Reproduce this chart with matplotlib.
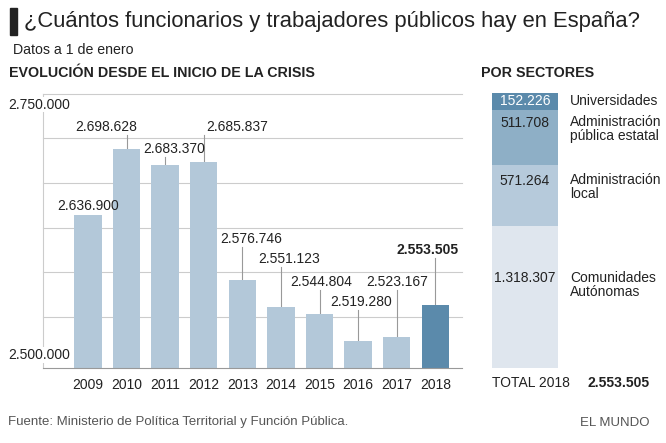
import numpy as np
import matplotlib
matplotlib.use("Agg")
import matplotlib.pyplot as plt
from matplotlib.transforms import blended_transform_factory

plt.rcParams["font.family"] = ["Liberation Sans", "DejaVu Sans"]

# --- data -------------------------------------------------------------
years = ["2009", "2010", "2011", "2012", "2013", "2014", "2015", "2016", "2017", "2018"]
employees = [2636900, 2698628, 2683370, 2685837, 2576746, 2551123, 2544804, 2519280, 2523167, 2553505]
value_labels = ["2.636.900", "2.698.628", "2.683.370", "2.685.837", "2.576.746",
                "2.551.123", "2.544.804", "2.519.280", "2.523.167", "2.553.505"]

sectors = ["Universidades", "Administración\npública estatal", "Administración\nlocal",
           "Comunidades\nAutónomas"]
sector_values = [152226, 511708, 571264, 1318307]
sector_labels = ["152.226", "511.708", "571.264", "1.318.307"]
total_label = "2.553.505"

# --- layout (label placement, in bar units / data units) ---------------
lab_dx = [0.0, -0.53, 0.23, 0.86, 0.22, 0.21, 0.04, 0.07, 0.0, -0.19]
lab_y = [None, 2719100, 2698000, 2719100, 2614200, 2595600, 2574800, 2556100, 2574800, 2604300]
sector_text_off = [None, 13, 16, 52]  # px below segment top

W, H = 666, 443
DARK = "#222222"
LIGHT_BAR = "#b3c8d9"
HIGHLIGHT = "#5b8aab"
SECTOR_COLORS = ["#5b8aab", "#8eafc6", "#b6cadb", "#dfe6ee"]


def px_axes(x0, y0, x1, y1):
    """Axes rectangle from pixel coords (top-left origin)."""
    return fig.add_axes([x0 / W, 1 - y1 / H, (x1 - x0) / W, (y1 - y0) / H])


fig = plt.figure(figsize=(W / 100, H / 100), dpi=100)

# --- header -------------------------------------------------------------
fig.patches.append(plt.Rectangle((10 / W, 1 - 35 / H), 7 / W, 27 / H,
                                 transform=fig.transFigure, color="#222222"))
fig.text(24 / W, 1 - 21 / H, "¿Cuántos funcionarios y trabajadores públicos hay en España?",
         fontsize=15.8, color=DARK, va="center", ha="left")
fig.text(13 / W, 1 - 50 / H, "Datos a 1 de enero", fontsize=10.2, color=DARK, va="center")
fig.text(9 / W, 1 - 73 / H, "EVOLUCIÓN DESDE EL INICIO DE LA CRISIS", fontsize=10.3,
         fontweight="bold", color=DARK, va="center")
fig.text(481 / W, 1 - 73 / H, "POR SECTORES", fontsize=10.3, fontweight="bold",
         color=DARK, va="center")

# --- left: evolution bars -------------------------------------------------
ax = px_axes(43, 93.5, 462, 368)
x = np.arange(len(years))
ymin, ymax = 2494400, 2750000
ax.set_xlim(-1.166, 9.69)
ax.set_ylim(ymin, ymax)

for gy in np.linspace(2500000, 2750000, 7)[1:]:
    ax.axhline(gy, color="#cccccc", lw=0.8, zorder=0, clip_on=False)

colors = [LIGHT_BAR] * (len(years) - 1) + [HIGHLIGHT]
ax.bar(x, employees, width=0.71, color=colors, zorder=2)

for i, (v, lab) in enumerate(zip(employees, value_labels)):
    weight = "bold" if i == len(years) - 1 else "normal"
    if lab_y[i] is None:
        ax.text(x[i] + lab_dx[i], v + 1500, lab, ha="center", va="bottom",
                fontsize=10, color=DARK, fontweight=weight)
        continue
    ax.text(x[i] + lab_dx[i], lab_y[i], lab, ha="center", va="center",
            fontsize=10, color=DARK, fontweight=weight, zorder=3)
    ax.plot([x[i], x[i]], [v, lab_y[i] - 7500], color="#999999", lw=0.8, zorder=1)

for side in ["top", "right"]:
    ax.spines[side].set_visible(False)
ax.spines["left"].set_color("#cccccc")
ax.spines["bottom"].set_color("#999999")
ax.set_yticks([])
ax.set_xticks(x)
ax.set_xticklabels(years, fontsize=10, color=DARK)
ax.tick_params(axis="x", length=0, pad=7)

tr = blended_transform_factory(fig.transFigure, ax.transData)
ax.annotate("2.750.000", xy=(8 / W, ymax), xycoords=tr, xytext=(0, -3),
            textcoords="offset points", va="top", ha="left", fontsize=10, color=DARK,
            bbox=dict(fc="white", ec="none", pad=0.5), annotation_clip=False, zorder=5)
ax.annotate("2.500.000", xy=(8 / W, 2500000), xycoords=tr, xytext=(0, 0),
            textcoords="offset points", va="bottom", ha="left", fontsize=10, color=DARK,
            bbox=dict(fc="white", ec="none", pad=0.5), annotation_clip=False, zorder=5)

# --- right: sectors stacked bar ---------------------------------------------
ax2 = px_axes(491.7, 93.3, 558.3, 368.3)
total = sum(sector_values)
ax2.set_xlim(0, 1)
ax2.set_ylim(total, 0)
ax2.axis("off")

top = 0
for i, (name, v, lab) in enumerate(zip(sectors, sector_values, sector_labels)):
    ax2.bar(0.5, v, bottom=top, width=1.0, color=SECTOR_COLORS[i])
    if sector_text_off[i] is None:
        ax2.text(0.5, top + v / 2, lab, ha="center", va="center", fontsize=10, color="white")
        ax2.text(1.18, top + v / 2, name, ha="left", va="center", fontsize=10, color=DARK,
                 transform=ax2.transData, clip_on=False)
    else:
        yy = top + sector_text_off[i] / 275 * total
        ax2.text(0.5, yy, lab, ha="center", va="center", fontsize=10, color=DARK)
        ax2.annotate(name, xy=(1.18, yy), xycoords="data", xytext=(0, 5.5),
                     textcoords="offset points", ha="left", va="top", fontsize=10,
                     color=DARK, linespacing=1.0, annotation_clip=False)
    top += v

fig.text(491.7 / W, 1 - 383 / H, "TOTAL 2018", fontsize=10, color=DARK, va="center")
fig.text(588 / W, 1 - 383 / H, total_label, fontsize=10, fontweight="bold", color=DARK,
         va="center")

# --- footer -------------------------------------------------------------
fig.text(8 / W, 1 - 422 / H, "Fuente: Ministerio de Política Territorial y Función Pública.",
         fontsize=9.5, color="#555555", va="center")
fig.text(649 / W, 1 - 423 / H, "EL MUNDO", fontsize=9.5, color="#555555", va="center",
         ha="right")

fig.savefig("out.png", dpi=100)
